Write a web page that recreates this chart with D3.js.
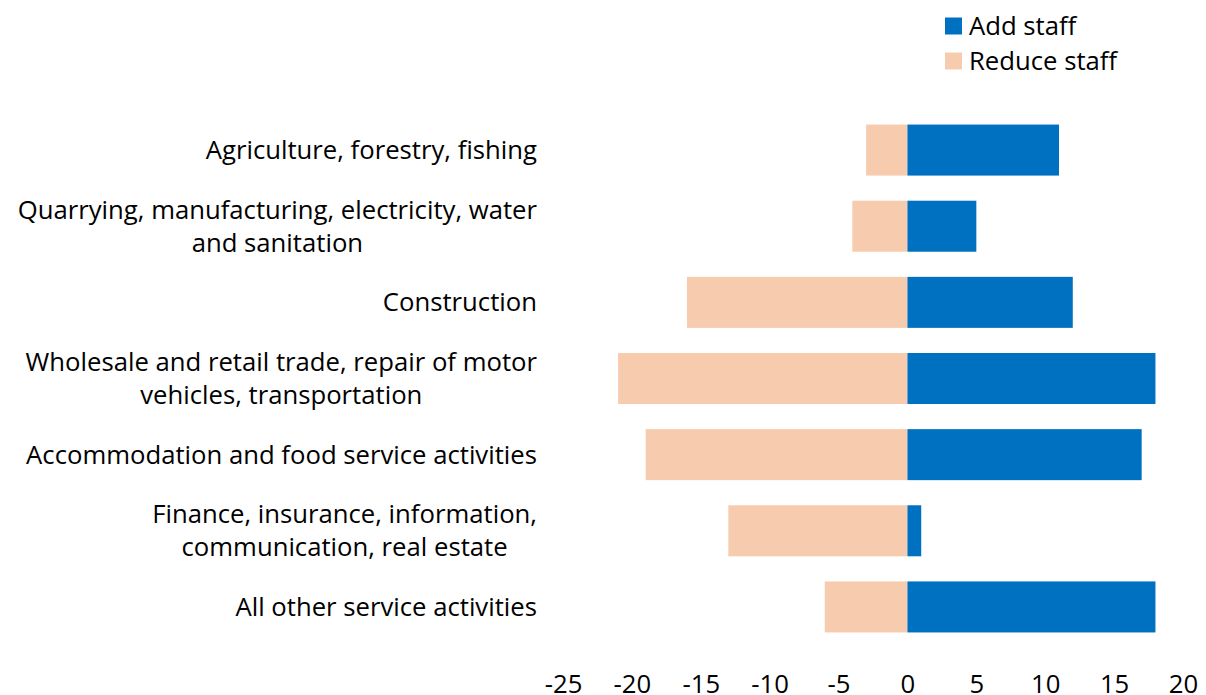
<!DOCTYPE html>
<html>
<head>
<meta charset="utf-8">
<script src="https://cdn.jsdelivr.net/npm/d3@7/dist/d3.min.js"></script>
<style>
  html, body { margin: 0; padding: 0; background: #fff; }
  svg { display: block; font-family: "Open Sans", Lato, sans-serif; }
</style>
</head>
<body>
<svg id="chart" width="1206" height="695"></svg>
<script>
// Sectors, top to bottom; each entry is the list of label lines
const sectors = [
  ["Agriculture, forestry, fishing"],
  ["Quarrying, manufacturing, electricity, water", "and sanitation"],
  ["Construction"],
  ["Wholesale and retail trade, repair of motor", "vehicles, transportation"],
  ["Accommodation and food service activities"],
  ["Finance, insurance, information,", "communication, real estate"],
  ["All other service activities"]
];
const addStaff = [11, 5, 12, 18, 17, 1, 18];
const reduceStaff = [-3, -4, -16, -21, -19, -13, -6];
const xTicks = [-25, -20, -15, -10, -5, 0, 5, 10, 15, 20];
const seriesNames = ["Add staff", "Reduce staff"];
const colors = { add: "#0070c0", reduce: "#f7cbad" };

const fontSize = 25.7;
const svg = d3.select("#chart");
const plot = { left: 563, right: 1183, top: 112, bottom: 645 };

const x = d3.scaleLinear().domain([-25, 20]).range([plot.left, plot.right]);
const y = d3.scaleBand()
  .domain(d3.range(sectors.length))
  .range([plot.top, plot.bottom])
  .paddingInner(0.33)
  .paddingOuter(0.165);

// Reduce staff bars (negative side)
svg.append("g").selectAll("rect")
  .data(reduceStaff)
  .join("rect")
  .attr("x", d => x(d))
  .attr("y", (d, i) => y(i))
  .attr("width", d => x(0) - x(d))
  .attr("height", y.bandwidth())
  .attr("fill", colors.reduce);

// Add staff bars (positive side)
svg.append("g").selectAll("rect")
  .data(addStaff)
  .join("rect")
  .attr("x", x(0))
  .attr("y", (d, i) => y(i))
  .attr("width", d => x(d) - x(0))
  .attr("height", y.bandwidth())
  .attr("fill", colors.add);

// Bottom axis: labels only, no domain line or ticks
const xAxis = svg.append("g")
  .attr("transform", `translate(0,${plot.bottom + 48})`)
  .call(d3.axisBottom(x).tickValues(xTicks).tickSize(0).tickPadding(0).tickFormat(d => String(d)));
xAxis.select(".domain").remove();
xAxis.selectAll("text")
  .attr("font-family", "'Open Sans', Lato, sans-serif")
  .attr("font-size", fontSize)
  .attr("fill", "#000")
  .attr("y", 0)
  .attr("dy", 0);

// Category labels: block right-aligned, lines centred on each other
const labelRight = 537;
const lineH = 33;
const labelG = svg.append("g")
  .attr("font-size", fontSize)
  .attr("fill", "#000");
sectors.forEach((lines, i) => {
  const cy = y(i) + y.bandwidth() / 2;
  const g = labelG.append("g");
  const texts = lines.map((line, j) => g.append("text")
    .attr("y", cy + (j - (lines.length - 1) / 2) * lineH)
    .attr("dy", "0.35em")
    .attr("text-anchor", "middle")
    .text(line));
  const maxW = d3.max(texts, t => t.node().getComputedTextLength());
  texts.forEach(t => t.attr("x", labelRight - maxW / 2));
});

// Legend
const legend = svg.append("g").attr("font-size", fontSize).attr("fill", "#000");
const legendColors = [colors.add, colors.reduce];
seriesNames.forEach((name, i) => {
  const ly = 26 + i * 35;
  legend.append("rect")
    .attr("x", 945).attr("y", ly - 8.5)
    .attr("width", 17).attr("height", 17)
    .attr("fill", legendColors[i]);
  legend.append("text")
    .attr("x", 969).attr("y", ly)
    .attr("dy", "0.35em")
    .text(name);
});
</script>
</body>
</html>
